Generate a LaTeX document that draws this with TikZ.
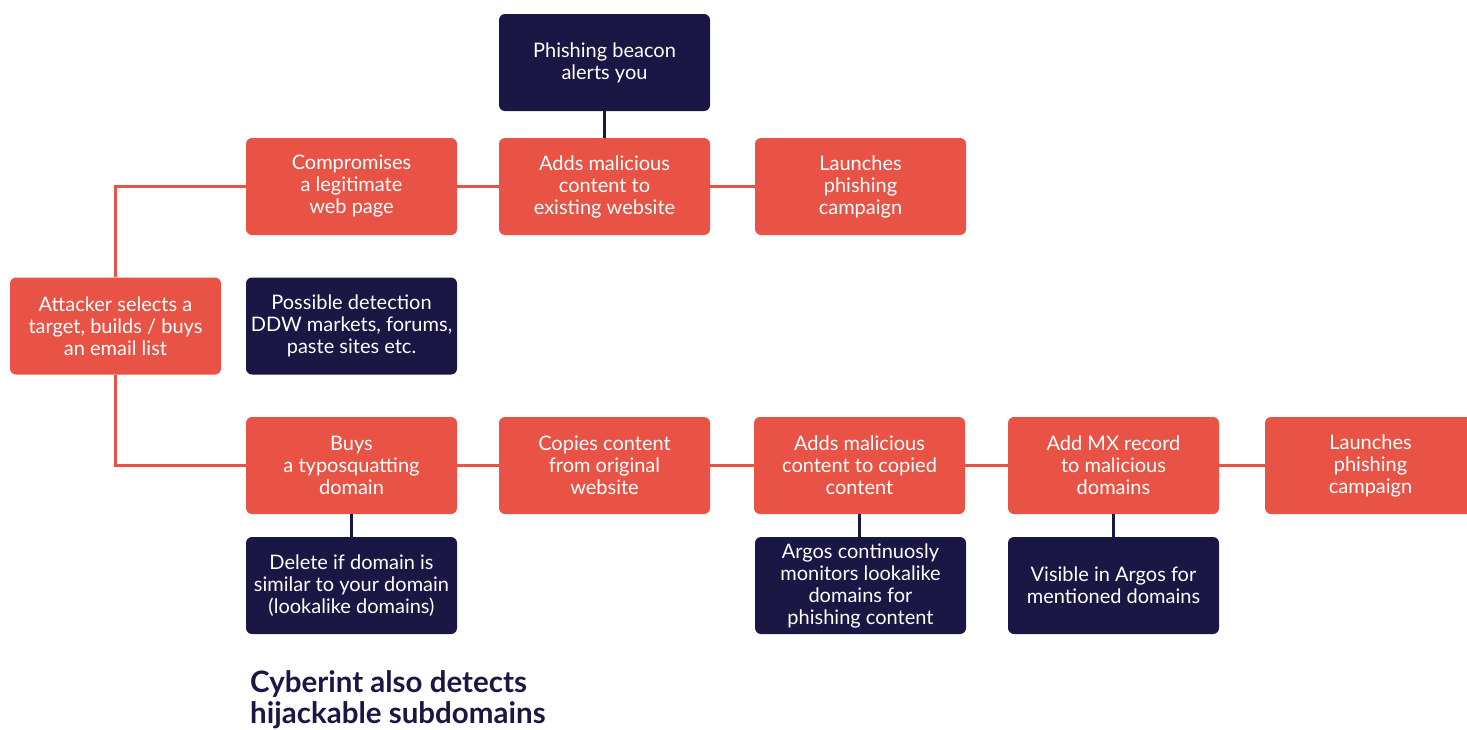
\documentclass[tikz,border=0pt]{standalone}
\usepackage{fontspec}
\setmainfont{Lato}
\usetikzlibrary{positioning}
\definecolor{cyred}{HTML}{E85346}
\definecolor{cynavy}{HTML}{1A1745}
\tikzset{
  % rutor
  rb/.style={rectangle,rounded corners=6pt,fill=cyred,text=white,align=center,
             minimum width=211pt,minimum height=97pt,inner sep=0pt,
             font=\fontsize{20}{22}\selectfont},
  nb/.style={rb,fill=cynavy},
  % linjer
  rl/.style={draw=cyred,line width=2.6pt},
  nl/.style={draw=cynavy,line width=2.6pt},
}
\begin{document}
\begin{tikzpicture}[x=1pt,y=-1pt]
  \useasboundingbox (0,0) rectangle (1467,729);
  \node[rb] (att) at (115.5,326) {Attacker selects a\\target, builds / buys\\an email list};
  \node[rb] (comp) at (351.5,186.5) {Compromises\\a legitimate\\web page};
  \node[nb] (ddw) at (351.5,326) {Possible detection\\DDW markets, forums,\\paste sites etc.};
  \node[rb] (buys) at (351.5,465.5) {Buys\\a typosquatting\\domain};
  \node[nb] (del) at (351.5,585.5) {Delete if domain is\\similar to your domain\\(lookalike domains)};
  \node[nb] (beacon) at (604.5,62.5) {Phishing beacon\\alerts you};
  \node[rb] (addx) at (604.5,186.5) {Adds malicious\\content to\\existing website};
  \node[rb] (launchA) at (860.5,186.5) {Launches\\phishing\\campaign};
  \node[rb] (copy) at (604.5,465.5) {Copies content\\from original\\website};
  \node[rb] (addc) at (859.5,465.5) {Adds malicious\\content to copied\\content};
  \node[nb] (argos) at (860.5,585.5) {Argos continuosly\\monitors lookalike\\domains for\\phishing content};
  \node[rb] (mx) at (1113.5,465.5) {Add MX record\\to malicious\\domains};
  \node[nb] (vis) at (1113.5,585.5) {Visible in Argos for\\mentioned domains};
  \node[rb] (launchB) at (1370.5,465.5) {Launches\\phishing\\campaign};
  \node[anchor=north west,align=left,text=cynavy,inner sep=0pt,
        font=\fontsize{29.5}{31}\selectfont\bfseries] (note) at (250,670)
    {Cyberint also detects\\hijackable subdomains};
  \draw[rl] (att.north) |- (comp.west);
  \draw[rl] (att.south) |- (buys.west);
  \draw[rl] (comp) -- (addx) (addx) -- (launchA);
  \draw[rl] (buys) -- (copy) (copy) -- (addc) (addc) -- (mx) (mx) -- (launchB);
  \draw[nl] (beacon) -- (addx);
  \draw[nl] (buys) -- (del);
  \draw[nl] (addc.south) -- (addc.south|-argos.north);
  \draw[nl] (mx) -- (vis);
\end{tikzpicture}
\end{document}
